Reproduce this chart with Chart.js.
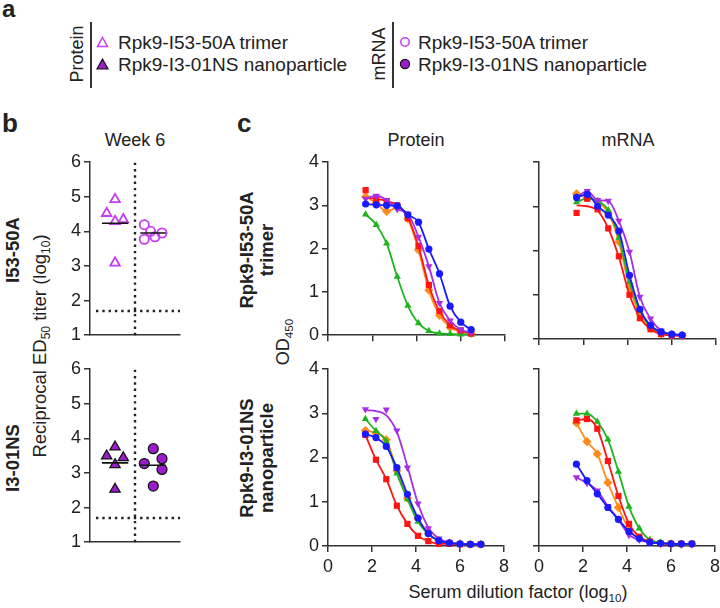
<!DOCTYPE html>
<html>
<head>
<meta charset="utf-8">
<script src="https://cdn.jsdelivr.net/npm/chart.js@4/dist/chart.umd.min.js"></script>
<style>
    html, body { margin: 0; padding: 0; background: #fff; }
    body {
        width: 720px; height: 608px; position: relative; overflow: hidden;
        font-family: 'Liberation Sans', Arial, sans-serif; color: #222;
    }
    canvas { position: absolute; }
    .t { position: absolute; white-space: nowrap; line-height: 1; transform: translate(-50%, -50%); }
    .rot { transform: translate(-50%, -50%) rotate(-90deg); }
    .left { transform: translate(0, -50%); }
    .b { font-weight: bold; }
    .letter { position: absolute; font-weight: bold; line-height: 1; }
    .vline { position: absolute; width: 1.5px; background: #333; }
    sub { font-size: 65%; vertical-align: baseline; position: relative; top: 0.32em; line-height: 0; }
    .two { text-align: center; line-height: 20px; }
</style>
</head>
<body>

<!-- panel letters -->
<div class="letter" style="left:2px;top:-3px;font-size:24px;">a</div>
<div class="letter" style="left:2px;top:110px;font-size:26px;">b</div>
<div class="letter" style="left:237px;top:110px;font-size:26px;">c</div>

<!-- legend (panel a) -->
<div class="t rot" style="left:77px;top:54px;font-size:18px;">Protein</div>
<div class="vline" style="left:90px;top:22px;height:66px;"></div>
<svg style="position:absolute;left:96px;top:36px;" width="13" height="12">
    <polygon points="6.5,1.5 11.5,10.5 1.5,10.5" fill="none" stroke="#c63cf2" stroke-width="1.5"/>
</svg>
<svg style="position:absolute;left:96px;top:58px;" width="13" height="12">
    <polygon points="6.5,1 12,11 1,11" fill="#9b1ccc" stroke="#111" stroke-width="1.2"/>
</svg>
<div class="t left" style="left:118px;top:42px;font-size:19px;">Rpk9-I53-50A trimer</div>
<div class="t left" style="left:118px;top:64px;font-size:19px;">Rpk9-I3-01NS nanoparticle</div>

<div class="t rot" style="left:379px;top:54px;font-size:18px;">mRNA</div>
<div class="vline" style="left:392px;top:22px;height:66px;"></div>
<svg style="position:absolute;left:399px;top:36px;" width="12" height="12">
    <circle cx="6" cy="6" r="4.2" fill="none" stroke="#c63cf2" stroke-width="1.5"/>
</svg>
<svg style="position:absolute;left:399px;top:58px;" width="12" height="12">
    <circle cx="6" cy="6" r="4.6" fill="#9b1ccc" stroke="#111" stroke-width="1.2"/>
</svg>
<div class="t left" style="left:418px;top:42px;font-size:19px;">Rpk9-I53-50A trimer</div>
<div class="t left" style="left:418px;top:64px;font-size:19px;">Rpk9-I3-01NS nanoparticle</div>

<!-- panel b texts -->
<div class="t" style="left:135px;top:140px;font-size:18px;">Week 6</div>
<div class="t rot b" style="left:13px;top:250px;font-size:18.5px;">I53-50A</div>
<div class="t rot b" style="left:13px;top:458px;font-size:18.5px;">I3-01NS</div>
<div class="t rot" style="left:40px;top:346px;font-size:18.5px;">Reciprocal ED<sub>50</sub> titer (log<sub>10</sub>)</div>

<!-- panel c texts -->
<div class="t" style="left:416px;top:140px;font-size:18px;">Protein</div>
<div class="t" style="left:628px;top:140px;font-size:18px;">mRNA</div>
<div class="t rot b two" style="left:257px;top:250px;font-size:18.5px;">Rpk9-I53-50A<br>trimer</div>
<div class="t rot b two" style="left:257px;top:458px;font-size:18.5px;">Rpk9-I3-01NS<br>nanoparticle</div>
<div class="t rot" style="left:283px;top:342px;font-size:18px;">OD<sub>450</sub></div>
<div class="t" style="left:518px;top:592px;font-size:18px;">Serum dilution factor (log<sub>10</sub>)</div>

<script>
(function () {

    // ─────────────────────────────────────────────
    // PANEL B DATA: reciprocal ED50 titer (log10), week 6
    // ─────────────────────────────────────────────
    var proteinTrimerTiter  = [4.92, 4.52, 4.29, 4.34, 3.09];
    var proteinTrimerJitter = [1.67, 1.11, 1.67, 2.22, 1.67];
    var mrnaTrimerTiter     = [4.19, 4.00, 3.77, 3.84, 3.95];
    var mrnaTrimerJitter    = [3.62, 4.04, 3.62, 4.33, 4.80];

    var proteinNpTiter      = [3.75, 3.49, 3.44, 3.24, 2.53];
    var proteinNpJitter     = [1.67, 1.11, 2.22, 1.67, 1.67];
    var mrnaNpTiter         = [3.70, 3.27, 3.41, 3.10, 2.62];
    var mrnaNpJitter        = [4.22, 3.62, 4.80, 4.80, 4.22];

    var titerRange      = [1, 6];
    var detectionLimit  = 1.7;
    var groupDivider    = 3;
    var proteinSpan     = [0.8, 2.55];
    var mrnaSpan        = [3.35, 5.05];

    // ─────────────────────────────────────────────
    // PANEL C DATA: OD450 vs serum dilution (log10)
    // ─────────────────────────────────────────────
    var dilutionTop    = [1.70, 2.18, 2.65, 3.13, 3.61, 4.09, 4.56, 5.04, 5.52, 6.00, 6.47];
    var dilutionBottom = [1.70, 2.18, 2.65, 3.13, 3.61, 4.09, 4.56, 5.04, 5.52, 6.00, 6.47, 6.95];

    // protein, trimer
    var ptRed    = [3.35, 3.12, 3.08, 3.00, 2.70, 2.06, 1.16, 0.56, 0.23, 0.11, 0.04];
    var ptRedFit = [3.17, 3.15, 3.10, 3.00, 2.72, 2.05, 1.15, 0.55, 0.23, 0.10, 0.05];
    var ptOrange = [3.20, 3.05, 2.86, 2.95, 2.69, 1.97, 1.04, 0.46, 0.18, 0.08, 0.04];
    var ptPurple = [3.15, 3.22, 3.12, 2.91, 2.80, 2.27, 1.59, 0.74, 0.34, 0.13, 0.06];
    var ptBlue   = [3.03, 3.01, 3.00, 2.99, 2.78, 2.61, 1.99, 1.42, 0.67, 0.30, 0.13];
    var ptGreen  = [2.79, 2.55, 2.12, 1.35, 0.68, 0.28, 0.10, 0.04, 0.03, 0.02, 0.02];

    // mRNA, trimer
    var mtRed    = [2.85, 3.17, 2.93, 2.50, 1.87, 1.00, 0.47, 0.22, 0.11, 0.08, 0.07];
    var mtRedFit = [3.02, 3.00, 2.90, 2.50, 1.85, 1.00, 0.48, 0.22, 0.11, 0.08, 0.07];
    var mtOrange = [3.28, 3.20, 3.10, 2.85, 2.20, 1.18, 0.57, 0.25, 0.12, 0.10, 0.08];
    var mtPurple = [3.20, 3.34, 3.14, 3.12, 2.67, 1.97, 0.95, 0.46, 0.19, 0.10, 0.08];
    var mtBlue   = [3.20, 3.27, 3.00, 2.80, 2.44, 1.44, 0.67, 0.31, 0.16, 0.11, 0.09];
    var mtGreen  = [3.09, 3.18, 3.12, 2.91, 2.29, 1.29, 0.65, 0.27, 0.15, 0.10, 0.08];

    // protein, nanoparticle
    var pnRed       = [2.51, 1.95, 1.51, 0.91, 0.50, 0.23, 0.11, 0.05, 0.05, 0.04, 0.04, 0.04];
    var pnOrange    = [2.61, 2.55, 2.40, 1.70, 1.08, 0.62, 0.28, 0.12, 0.07, 0.05, 0.04, 0.04];
    var pnPurple    = [3.09, 2.87, 3.08, 2.61, 1.77, 0.96, 0.40, 0.17, 0.08, 0.05, 0.04, 0.04];
    var pnPurpleFit = [3.07, 3.05, 2.95, 2.58, 1.80, 0.96, 0.42, 0.17, 0.08, 0.05, 0.04, 0.04];
    var pnBlue      = [2.53, 2.45, 2.25, 1.77, 1.17, 0.63, 0.28, 0.12, 0.07, 0.05, 0.04, 0.04];
    var pnGreen     = [2.87, 2.60, 2.36, 1.64, 1.06, 0.55, 0.27, 0.12, 0.06, 0.05, 0.04, 0.04];

    // mRNA, nanoparticle
    var mnRed    = [2.84, 2.87, 2.65, 1.92, 1.13, 0.50, 0.21, 0.10, 0.06, 0.05, 0.05, 0.05];
    var mnOrange = [2.78, 2.36, 2.08, 1.43, 0.87, 0.38, 0.17, 0.10, 0.06, 0.05, 0.04, 0.04];
    var mnPurple = [1.55, 1.42, 1.25, 0.90, 0.60, 0.25, 0.14, 0.08, 0.06, 0.05, 0.05, 0.05];
    var mnBlue   = [1.85, 1.48, 1.18, 0.87, 0.60, 0.33, 0.17, 0.08, 0.06, 0.05, 0.05, 0.05];
    var mnGreen  = [2.99, 2.99, 2.81, 2.41, 1.68, 0.89, 0.40, 0.14, 0.08, 0.05, 0.04, 0.04];

    var odRange       = [0, 4];
    var dilutionRange = [0, 8];

    // ─────────────────────────────────────────────
    // STYLE
    // ─────────────────────────────────────────────
    var AXIS    = '#333';
    var TEXT    = '#222';
    var MAGENTA = '#c63cf2';
    var PURPLE  = '#9b1ccc';
    var FONT    = "'Liberation Sans', Arial, sans-serif";

    var C = {
        red:    '#ff1414',
        orange: '#ff8a1a',
        purple: '#a62ee8',
        blue:   '#1a1aff',
        green:  '#20b420'
    };

    // ─────────────────────────────────────────────
    // HELPERS
    // ─────────────────────────────────────────────
    function pts(xs, ys) {
        return ys.map(function (y, i) { return { x: xs[i], y: y }; });
    }

    function mean(a) {
        return a.reduce(function (s, v) { return s + v; }, 0) / a.length;
    }

    // place a chart so that its plot area lands on a fixed box of the page
    function placeChart(box, datasets, scales) {
        var yw = box.yw, xh = box.xh, pt = 14, pr = 8;
        var c = document.createElement('canvas');
        var w = yw + (box.right - box.left) + pr;
        var h = pt + (box.bottom - box.top) + xh;
        c.width = w; c.height = h;
        c.style.left = (box.left - yw) + 'px';
        c.style.top  = (box.top - pt) + 'px';
        c.style.width = w + 'px'; c.style.height = h + 'px';
        document.body.appendChild(c);

        scales.x.afterFit = function (s) { s.height = xh; };
        scales.y.afterFit = function (s) { s.width = yw; };

        new Chart(c.getContext('2d'), {
            type: 'line',
            data: { datasets: datasets },
            options: {
                responsive: false,
                animation: false,
                devicePixelRatio: 1,
                layout: { padding: { top: pt, right: pr, left: 0, bottom: 0 } },
                plugins: { legend: { display: false }, tooltip: { enabled: false } },
                scales: scales
            }
        });
    }

    function axis(range, step, showLabels, pad) {
        return {
            type: 'linear',
            min: range[0],
            max: range[1],
            grid: {
                display: step > 0,
                drawOnChartArea: false,
                drawTicks: true,
                tickLength: 6,
                color: AXIS,
                lineWidth: 1.5
            },
            border: { display: true, color: AXIS, width: 1.5 },
            ticks: {
                display: showLabels,
                stepSize: step > 0 ? step : 1,
                padding: pad,
                color: TEXT,
                font: { family: FONT, size: 18 }
            }
        };
    }

    // ─────────────────────────────────────────────
    // PANEL B
    // ─────────────────────────────────────────────
    function titerSets(protY, protX, mrnaY, mrnaX, filled) {
        var pm = mean(protY), mm = mean(mrnaY);
        var dotted = {
            borderColor: '#222', borderWidth: 2.4, borderDash: [2.4, 3.9],
            pointRadius: 0, clip: false, fill: false
        };
        var meanLine = { borderColor: '#111', borderWidth: 1.6, pointRadius: 0, fill: false };
        var tri = filled
            ? { pointBackgroundColor: PURPLE, pointBorderColor: '#111', pointBorderWidth: 1.2, pointRadius: 6 }
            : { pointBackgroundColor: 'rgba(0,0,0,0)', pointBorderColor: MAGENTA, pointBorderWidth: 1.8, pointRadius: 5.5 };
        var circ = filled
            ? { pointBackgroundColor: PURPLE, pointBorderColor: '#111', pointBorderWidth: 1.2, pointRadius: 5 }
            : { pointBackgroundColor: 'rgba(0,0,0,0)', pointBorderColor: MAGENTA, pointBorderWidth: 1.8, pointRadius: 4.6 };

        return [
            Object.assign({ data: [{ x: proteinSpan[0], y: pm }, { x: proteinSpan[1], y: pm }] }, meanLine),
            Object.assign({ data: [{ x: mrnaSpan[0], y: mm }, { x: mrnaSpan[1], y: mm }] }, meanLine),
            Object.assign({ data: pts(protX, protY), showLine: false, pointStyle: 'triangle', clip: false }, tri),
            Object.assign({ data: pts(mrnaX, mrnaY), showLine: false, pointStyle: 'circle', clip: false }, circ),
            Object.assign({ data: [{ x: groupDivider, y: titerRange[0] }, { x: groupDivider, y: titerRange[1] }] }, dotted),
            Object.assign({ data: [{ x: 0.4, y: detectionLimit }, { x: 6, y: detectionLimit }] }, dotted)
        ];
    }

    function titerScales() {
        var x = axis([0, 6], 0, false, 0);
        x.grid.display = false;
        return { x: x, y: axis(titerRange, 1, true, 3) };
    }

    placeChart({ left: 90, right: 180, top: 162, bottom: 339, yw: 42, xh: 10 },
        titerSets(proteinTrimerTiter, proteinTrimerJitter, mrnaTrimerTiter, mrnaTrimerJitter, false),
        titerScales());

    placeChart({ left: 90, right: 180, top: 369, bottom: 546, yw: 42, xh: 10 },
        titerSets(proteinNpTiter, proteinNpJitter, mrnaNpTiter, mrnaNpJitter, true),
        titerScales());

    // ─────────────────────────────────────────────
    // PANEL C
    // ─────────────────────────────────────────────
    // one series = fitted line + measured points (line from fit if given)
    function series(xs, ys, fit, color, style, radius, rotation) {
        return [
            {
                data: pts(xs, ys),
                showLine: false,
                pointStyle: style,
                pointRotation: rotation || 0,
                pointRadius: radius,
                pointBorderWidth: 0,
                pointBackgroundColor: color,
                clip: false
            },
            {
                data: pts(xs, fit || ys),
                borderColor: color,
                borderWidth: 1.8,
                cubicInterpolationMode: 'monotone',
                pointRadius: 0,
                clip: false,
                fill: false
            }
        ];
    }

    // first dataset ends up on top
    function odSets(xs, red, orange, purple, blue, green, fits) {
        fits = fits || {};
        return [].concat(
            series(xs, blue,   fits.blue,   C.blue,   'circle',   3.6),
            series(xs, purple, fits.purple, C.purple, 'triangle', 4.2, 180),
            series(xs, red,    fits.red,    C.red,    'rect',     4.4),
            series(xs, green,  fits.green,  C.green,  'triangle', 4.2),
            series(xs, orange, fits.orange, C.orange, 'rectRot',  4.6)
        );
    }

    function odScales(yLabels, xLabels) {
        return {
            x: axis(dilutionRange, 2, xLabels, 4),
            y: axis(odRange, 1, yLabels, 3)
        };
    }

    placeChart({ left: 328, right: 505, top: 162, bottom: 339, yw: 42, xh: 10 },
        odSets(dilutionTop, ptRed, ptOrange, ptPurple, ptBlue, ptGreen, { red: ptRedFit }),
        odScales(true, false));

    placeChart({ left: 539, right: 716, top: 162, bottom: 339, yw: 42, xh: 10 },
        odSets(dilutionTop, mtRed, mtOrange, mtPurple, mtBlue, mtGreen, { red: mtRedFit }),
        odScales(false, false));

    placeChart({ left: 328, right: 505, top: 369, bottom: 546, yw: 42, xh: 44 },
        odSets(dilutionBottom, pnRed, pnOrange, pnPurple, pnBlue, pnGreen, { purple: pnPurpleFit }),
        odScales(true, true));

    placeChart({ left: 539, right: 716, top: 369, bottom: 546, yw: 42, xh: 44 },
        odSets(dilutionBottom, mnRed, mnOrange, mnPurple, mnBlue, mnGreen),
        odScales(false, true));

})();
</script>
</body>
</html>
